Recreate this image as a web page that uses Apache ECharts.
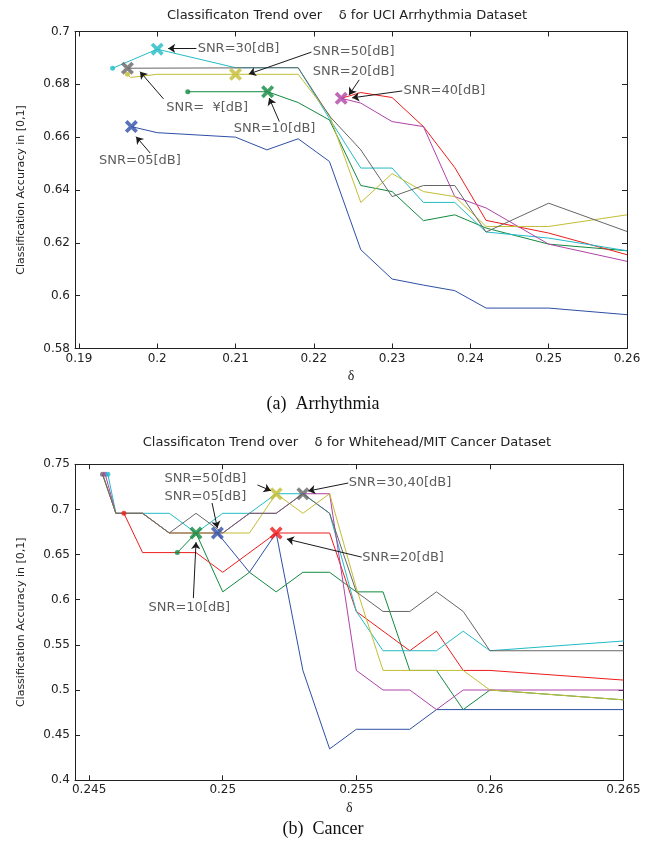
<!DOCTYPE html>
<html>
<head>
<meta charset="utf-8">
<script src="https://cdn.jsdelivr.net/npm/echarts@6/dist/echarts.min.js"></script>
<style>
html, body { margin: 0; padding: 0; background: #fff; }
#main { width: 654px; height: 841px; }
</style>
</head>
<body>
<div id="main"></div>
<script>
// ---------- (a) Arrhythmia ----------
const arrTicksX = [0.19, 0.2, 0.21, 0.22, 0.23, 0.24, 0.25, 0.26];
const arrSnr05 = [[0.1967,0.664],[0.2,0.6617],[0.21,0.66],[0.214,0.6552],[0.218,0.6594],[0.222,0.6508],[0.226,0.6174],[0.23,0.6063],[0.234,0.604],[0.238,0.6019],[0.242,0.5953],[0.25,0.5953],[0.26,0.5928]];
const arrSnr10 = [[0.2039,0.6772],[0.2141,0.6772],[0.218,0.6731],[0.222,0.6665],[0.226,0.6417],[0.23,0.6394],[0.234,0.6284],[0.238,0.6306],[0.242,0.6256],[0.25,0.6195],[0.26,0.617]];
const arrSnr20 = [[0.2235,0.6747],[0.226,0.6769],[0.23,0.675],[0.234,0.664],[0.238,0.6485],[0.242,0.6285],[0.25,0.6237],[0.26,0.6155]];
const arrSnr30 = [[0.1943,0.6861],[0.2,0.6933],[0.21,0.6863],[0.218,0.6863],[0.222,0.667],[0.226,0.6483],[0.23,0.6483],[0.234,0.6353],[0.238,0.6353],[0.242,0.6241],[0.25,0.6218],[0.26,0.617]];
const arrSnr40 = [[0.2235,0.6747],[0.226,0.6729],[0.23,0.6659],[0.234,0.664],[0.238,0.6375],[0.242,0.6332],[0.25,0.6195],[0.26,0.613]];
const arrSnr50 = [[0.1962,0.6838],[0.1966,0.6826],[0.2,0.6838],[0.21,0.6838],[0.218,0.6838],[0.222,0.6684],[0.226,0.6353],[0.23,0.6462],[0.234,0.6394],[0.238,0.6375],[0.242,0.6262],[0.25,0.6262],[0.26,0.6306]];
const arrSnrInf = [[0.1962,0.6861],[0.218,0.6863],[0.222,0.668],[0.226,0.6552],[0.23,0.6375],[0.234,0.6417],[0.238,0.6417],[0.242,0.6241],[0.25,0.635],[0.26,0.6243]];
// best points (x marks) and start dots
const arrBest = [[0.1967,0.664,'#2f4fa6'],[0.2,0.6933,'#22bcc6'],[0.1962,0.6861,'#666666'],[0.21,0.6838,'#c4bd35'],[0.2141,0.6772,'#128a3e'],[0.2235,0.6747,'#b043a8']];
const arrDots = [[0.1943,0.6861,'#22bcc6'],[0.1962,0.6838,'#c4bd35'],[0.2039,0.6772,'#128a3e']];
// annotations: text, text anchor, arrow start, arrow tip
const arrNotes = [
  ['SNR=30[dB]', [0.2051,0.6936], [0.2050,0.6936], [0.2014,0.6936]],
  ['SNR=50[dB]', [0.2198,0.6924], [0.2197,0.6922], [0.2117,0.6839]],
  ['SNR=20[dB]', [0.2198,0.6848], [0.2258,0.6817], [0.2245,0.6760]],
  ['SNR=40[dB]', [0.2314,0.6775], [0.2313,0.6775], [0.2249,0.6749]],
  ['SNR=  \u00a5[dB]', [0.2011,0.6712], [0.2008,0.6745], [0.1978,0.6848]],
  ['SNR=10[dB]', [0.2097,0.6634], [0.2156,0.6659], [0.2143,0.6748]],
  ['SNR=05[dB]', [0.1925,0.6510], [0.1991,0.6540], [0.1973,0.6602]]
];

// ---------- (b) Cancer ----------
const canTicksX = [0.245, 0.25, 0.255, 0.26, 0.265];
const canSnr05 = [[0.2455,0.7391],[0.246,0.6957],[0.247,0.6957],[0.248,0.6739],[0.249,0.6739],[0.2498,0.6739],[0.251,0.6304],[0.252,0.6739],[0.253,0.5217],[0.254,0.4348],[0.255,0.4565],[0.256,0.4565],[0.257,0.4565],[0.258,0.4783],[0.259,0.4783],[0.26,0.4783],[0.265,0.4783]];
const canSnr10 = [[0.2483,0.6522],[0.249,0.6739],[0.25,0.6087],[0.251,0.6304],[0.252,0.6087],[0.253,0.6304],[0.254,0.6304],[0.255,0.6087],[0.256,0.6087],[0.257,0.5217],[0.258,0.5217],[0.259,0.4783],[0.26,0.5],[0.265,0.4891]];
const canSnr20 = [[0.2463,0.6957],[0.247,0.6522],[0.249,0.6522],[0.25,0.6304],[0.252,0.6739],[0.254,0.6739],[0.255,0.587],[0.257,0.5435],[0.258,0.5652],[0.259,0.5217],[0.26,0.5217],[0.265,0.511]];
const canSnr30 = [[0.2457,0.7391],[0.246,0.6957],[0.248,0.6957],[0.249,0.6739],[0.25,0.6957],[0.251,0.6957],[0.252,0.7174],[0.253,0.7174],[0.254,0.6957],[0.255,0.587],[0.256,0.5435],[0.258,0.5435],[0.259,0.5652],[0.26,0.5435],[0.265,0.5543]];
const canSnr40 = [[0.2456,0.7391],[0.246,0.6957],[0.247,0.6957],[0.248,0.6739],[0.25,0.6739],[0.251,0.6957],[0.252,0.6957],[0.253,0.7174],[0.254,0.7174],[0.255,0.5217],[0.256,0.5],[0.257,0.5],[0.258,0.4783],[0.259,0.5],[0.26,0.5],[0.265,0.5]];
const canSnr50 = [[0.2455,0.7391],[0.246,0.6957],[0.247,0.6957],[0.248,0.6739],[0.251,0.6739],[0.252,0.7174],[0.253,0.6957],[0.254,0.7174],[0.255,0.613],[0.256,0.5217],[0.259,0.5217],[0.26,0.5],[0.265,0.4891]];
const canSnrInf = [[0.2455,0.7391],[0.246,0.6957],[0.247,0.6957],[0.248,0.6739],[0.249,0.6957],[0.25,0.6739],[0.251,0.6957],[0.252,0.6957],[0.253,0.7174],[0.254,0.6957],[0.255,0.6087],[0.256,0.587],[0.257,0.587],[0.258,0.6087],[0.259,0.587],[0.26,0.5435],[0.265,0.5435]];
const canBest = [[0.252,0.7174,'#c4bd35'],[0.253,0.7174,'#666666'],[0.2498,0.6739,'#2f4fa6'],[0.249,0.6739,'#128a3e'],[0.252,0.6739,'#ee1c1c']];
const canDots = [[0.2455,0.7391,'#666666'],[0.2456,0.7391,'#b043a8'],[0.2457,0.7391,'#22bcc6'],[0.2463,0.6957,'#ee1c1c'],[0.2483,0.6522,'#128a3e']];
const canNotes = [
  ['SNR=50[dB]', [0.2478,0.7337], [0.2513,0.7271], [0.2518,0.7208]],
  ['SNR=05[dB]', [0.2478,0.7137], [0.2496,0.7071], [0.2498,0.6794]],
  ['SNR=10[dB]', [0.2472,0.5910], [0.2489,0.6018], [0.2490,0.6638]],
  ['SNR=30,40[dB]', [0.2547,0.7296], [0.2547,0.7293], [0.2532,0.7204]],
  ['SNR=20[dB]', [0.2552,0.6464], [0.2552,0.6472], [0.2524,0.6672]]
];

const colors = { s05: '#2f4fa6', s10: '#128a3e', s20: '#ee1c1c', s30: '#22bcc6', s40: '#b043a8', s50: '#c4bd35', sInf: '#666666' };
const FONT = 'DejaVu Sans';
const crossPath = 'path://M2,0 L5,3 L8,0 L10,2 L7,5 L10,8 L8,10 L5,7 L2,10 L0,8 L3,5 L0,2 Z';

const chart = echarts.init(document.getElementById('main'), null, { renderer: 'canvas' });

function fmt(v) { return String(+v.toFixed(3)); }

function xAxes(g, min, max, ticks) {
  const base = {
    gridIndex: g, type: 'value', min: min, max: max,
    splitLine: { show: false },
    axisLine: { lineStyle: { color: '#222', width: 1 } },
    axisTick: { inside: true, length: 5, customValues: ticks, lineStyle: { color: '#222' } }
  };
  return [
    Object.assign({}, base, {
      position: 'bottom',
      axisLabel: { customValues: ticks, formatter: fmt, color: '#222', fontFamily: FONT, fontSize: 12, margin: 4 },
      name: '\u03b4', nameLocation: 'middle', nameGap: 21,
      nameTextStyle: { fontFamily: 'Liberation Serif', fontSize: 14, color: '#222' }
    }),
    Object.assign({}, base, { position: 'top', axisLabel: { show: false } })
  ];
}

function yAxes(g, min, max, interval) {
  const base = {
    gridIndex: g, type: 'value', min: min, max: max, interval: interval,
    splitLine: { show: false },
    axisLine: { lineStyle: { color: '#222', width: 1 } },
    axisTick: { inside: true, length: 5, lineStyle: { color: '#222' } }
  };
  return [
    Object.assign({}, base, {
      position: 'left',
      axisLabel: { formatter: fmt, color: '#222', fontFamily: FONT, fontSize: 12, margin: 5 },
      name: 'Classification Accuracy in [0,1]', nameLocation: 'middle', nameGap: 48, nameRotate: 90,
      nameTextStyle: { fontFamily: FONT, fontSize: 11, color: '#222' }
    }),
    Object.assign({}, base, { position: 'right', axisLabel: { show: false } })
  ];
}

function lineSeries(data, color, g) {
  return { type: 'line', xAxisIndex: g * 2, yAxisIndex: g * 2, data: data, symbol: 'none',
    lineStyle: { color: color, width: 1 }, silent: true, z: 2 };
}

function markSeries(list, g, symbol, size) {
  return { type: 'scatter', xAxisIndex: g * 2, yAxisIndex: g * 2, symbol: symbol, symbolSize: size, silent: true, z: 4,
    data: list.map(p => ({ value: [p[0], p[1]], itemStyle: { color: p[2] } })) };
}

function noteSeries(notes, g) {
  return [
    { type: 'lines', coordinateSystem: 'cartesian2d', xAxisIndex: g * 2, yAxisIndex: g * 2, silent: true, z: 5,
      symbol: ['none', 'arrow'], symbolSize: 7,
      lineStyle: { color: '#1a1a1a', width: 1, opacity: 1 },
      data: notes.map(n => ({ coords: [n[2], n[3]] })) },
    { type: 'scatter', xAxisIndex: g * 2, yAxisIndex: g * 2, symbolSize: 1, silent: true, z: 5,
      itemStyle: { color: 'rgba(0,0,0,0)' },
      label: { show: true, position: 'right', distance: 0, formatter: p => p.name,
        fontFamily: FONT, fontSize: 13, color: '#333' },
      data: notes.map(n => ({ name: n[0], value: n[1] })) }
  ];
}

const arrLines = [arrSnr05, arrSnr10, arrSnr20, arrSnr30, arrSnr40, arrSnr50, arrSnrInf];
const canLines = [canSnr05, canSnr10, canSnr20, canSnr30, canSnr40, canSnr50, canSnrInf];
const lineColors = [colors.s05, colors.s10, colors.s20, colors.s30, colors.s40, colors.s50, colors.sInf];

const series = []
  .concat(arrLines.map((d, i) => lineSeries(d, lineColors[i], 0)))
  .concat(canLines.map((d, i) => lineSeries(d, lineColors[i], 1)))
  .concat([markSeries(arrDots, 0, 'circle', 5), markSeries(arrBest, 0, crossPath, 13)])
  .concat([markSeries(canDots, 1, 'circle', 5), markSeries(canBest, 1, crossPath, 13)])
  .concat(noteSeries(arrNotes, 0))
  .concat(noteSeries(canNotes, 1));

const option = {
  animation: false,
  backgroundColor: '#fff',
  grid: [
    { left: 75, top: 31.5, width: 552, height: 317 },
    { left: 75, top: 464.3, width: 548.5, height: 316 }
  ],
  xAxis: xAxes(0, 0.1895, 0.26, arrTicksX).concat(xAxes(1, 0.24447, 0.265, canTicksX)),
  yAxis: yAxes(0, 0.58, 0.7, 0.02).concat(yAxes(1, 0.4, 0.75, 0.05)),
  graphic: [
    { type: 'text', x: 347, y: 9, style: { text: 'Classificaton Trend over    \u03b4 for UCI Arrhythmia Dataset', font: '13px "DejaVu Sans"', fill: '#222', textAlign: 'center' } },
    { type: 'text', x: 347, y: 436, style: { text: 'Classificaton Trend over    \u03b4 for Whitehead/MIT Cancer Dataset', font: '13px "DejaVu Sans"', fill: '#222', textAlign: 'center' } },
    { type: 'text', x: 323, y: 395, style: { text: '(a)  Arrhythmia', font: '18px "Liberation Serif"', fill: '#111', textAlign: 'center' } },
    { type: 'text', x: 323, y: 820, style: { text: '(b)  Cancer', font: '18px "Liberation Serif"', fill: '#111', textAlign: 'center' } }
  ],
  series: series
};
chart.setOption(option);
</script>
</body>
</html>
